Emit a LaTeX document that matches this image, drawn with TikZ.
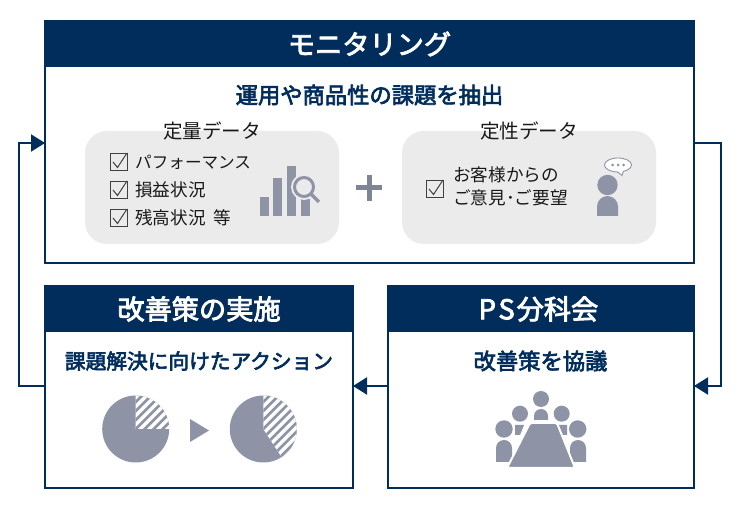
\documentclass[tikz,border=0pt]{standalone}
\usepackage{fontspec}
\setmainfont{Noto Sans CJK JP}
\newfontfamily\medfont[FakeBold=3]{Noto Sans CJK JP}
\usetikzlibrary{arrows.meta}
\definecolor{navy}{HTML}{002D5C}
\definecolor{panelgray}{HTML}{EBEBEB}
\definecolor{icongray}{HTML}{8E94A6}
\newcommand{\tsize}[1]{\fontsize{#1}{#1}\selectfont}
\tikzset{
  panel/.style={draw=navy,line width=2pt,fill=white,inner sep=0pt,outer sep=0pt},
  head/.style={fill=navy,text=white,inner sep=0pt,outer sep=0pt,font=\medfont\tsize{27.2}},
  subhead/.style={text=navy,inner sep=0pt,font=\medfont\tsize{22.3}},
  databox/.style={fill=panelgray,rounded corners=22pt,inner sep=0pt,minimum width=254pt,minimum height=113pt},
  item/.style={text=black!90,inner sep=0pt,anchor=west,font=\tsize{17.6}},
  datatitle/.style={text=black!90,inner sep=0pt,font=\tsize{19.6}},
  conn/.style={draw=navy,line width=2pt,-{Triangle[length=14pt,width=17pt]}},
  icon/.style={fill=icongray,draw=none},
  hatchline/.style={draw=icongray,line width=2.6pt},
  chkbox/.pic={
    \draw[black!75,line width=1pt] (-8.5,-8.5) rectangle (8.5,8.5);
    \draw[black!75,line width=1pt] (-6,0) -- (-1.5,5.5) -- (8,-9);
  }
}
\begin{document}
\begin{tikzpicture}[x=1pt,y=-1pt]
  \useasboundingbox (0,0) rectangle (740,510);

  % Rahmen
  \node[panel,minimum width=649pt,minimum height=242pt] (mon) at (369.5,142) {};
  \node[panel,minimum width=308pt,minimum height=202pt] (act) at (199,387) {};
  \node[panel,minimum width=306pt,minimum height=202pt] (ps) at (541,387) {};

  % Kopfzeilen
  \node[head,minimum width=650pt,minimum height=46pt] (monhead) at (369.5,44) {モニタリング};
  \node[head,minimum width=309pt,minimum height=47pt] (acthead) at (199,309) {改善策の実施};
  \node[head,minimum width=307pt,minimum height=47pt] (pshead) at (541,309) {\kern-5pt P\kern2.5pt S\kern2pt 分科会};

  \node[subhead] (monsub) at (369.5,95) {運用や商品性の課題を抽出};
  \node[subhead,font=\medfont\tsize{20.7}] (actsub) at (199,361) {課題解決に向けたアクション};
  \node[subhead] (pssub) at (540.5,361) {改善策を協議};

  % Daten
  \node[databox] (quant) at (212,187.5) {};
  \node[databox] (qual) at (529,187.5) {};
  \node[datatitle] (quanttitle) at (212,131) {定量データ};
  \node[datatitle] (qualtitle) at (529,131) {定性データ};

  \pic at (119,162) {chkbox};
  \pic at (119,190) {chkbox};
  \pic at (119,218) {chkbox};
  \pic at (435,189) {chkbox};
  \node[item,font=\tsize{16.6}] (perf) at (135,162) {パフォーマンス};
  \node[item] (loss) at (135,190) {損益状況};
  \node[item] (rest) at (135,218) {残高状況\kern4pt{} 等};
  \node[item] (voicea) at (453,175) {お客様からの};
  \node[item] (voiceb) at (453,198) {ご意見･ご要望};

  % Plus
  \fill[icongray!90!black] (356,185.5) rectangle (382,190.5);
  \fill[icongray!90!black] (366.5,175) rectangle (371.5,201);

  % Balken und Lupe
  \fill[icon] (260,197) rectangle (269,216);
  \fill[icon] (273,178) rectangle (282,216);
  \fill[icon] (287,166) rectangle (296,216);
  \fill[icon] (301,199) rectangle (310,216);
  \fill[panelgray] (304,187) circle (13);
  \draw[icongray,line width=3pt] (304,187) circle (9.5);
  \draw[icongray,line width=3.4pt] (311,194) -- (319,202);

  % Person
  \fill[icon] (607.5,185) circle (10.2);
  \fill[icon] (597,216) -- (597,206.5) arc[start angle=180,end angle=360,radius=10.5] -- (618,216) -- cycle;
  \draw[icongray,line width=.9pt,fill=white] (618,165) ellipse (13.5 and 7);
  \fill[white] (617,170) -- (622,175.5) -- (624,170) -- cycle;
  \draw[icongray,line width=.9pt] (617.5,171.9) -- (622,175.5) -- (623.5,170.8);
  \foreach \px in {612.5,618,623.5}
    \fill[icongray] (\px,165) circle (1.5);

  % Kreise
  \fill[icon] (135.7,429) circle (33.5);
  \fill[icon] (263.3,429) circle (33.5);
  \begin{scope}
    \clip (135.7,429) -- (135.7,395.5) arc[start angle=-90,end angle=0,radius=33.5] -- cycle;
    \fill[white] (100,390) rectangle (172,468);
    \foreach \k in {-72,-63,...,72}
      \draw[hatchline] (135.7+\k-50,429+50) -- (135.7+\k+50,429-50);
  \end{scope}
  \begin{scope}
    \clip (263.3,429) -- (263.3,395.5) arc[start angle=-90,end angle=57,radius=33.5] -- cycle;
    \fill[white] (228,390) rectangle (300,468);
    \foreach \k in {-72,-63,...,72}
      \draw[hatchline] (263.3+\k-50,429+50) -- (263.3+\k+50,429-50);
  \end{scope}
  \fill[icon] (190,419) -- (209,430.5) -- (190,442) -- cycle;

  % Besprechung
  \fill[icon] (541,399) circle (8);
  \fill[icon] (534,420) -- (534,416) arc[start angle=180,end angle=360,radius=7] -- (548,420) -- cycle;
  \fill[icon] (520,413.7) circle (8);
  \fill[icon] (561.7,413.7) circle (8);
  \fill[icon] (504,429) circle (8.7);
  \fill[icon] (577.7,429) circle (8.7);
  \fill[icon] (515,425) -- (524,425) -- (520,435) -- (515,435) -- cycle;
  \fill[icon] (567,425) -- (558,425) -- (562,435) -- (567,435) -- cycle;
  \fill[icon] (496,462) -- (496,448) arc[start angle=180,end angle=360,radius=8] -- (512,462) -- cycle;
  \fill[icon] (570,462) -- (570,448) arc[start angle=180,end angle=360,radius=8] -- (586,462) -- cycle;
  \draw[white,line width=2pt,fill=icongray,rounded corners=1.5pt] (530,423) -- (557,423) -- (575,468) -- (507,468) -- cycle;

  % Pfeile
  \coordinate (monout) at (mon.east |- 0,143);
  \coordinate (monin) at (mon.west |- 0,143);
  \coordinate (psin) at (ps.east |- 0,386);
  \coordinate (psout) at (ps.west |- 0,386);
  \coordinate (actin) at (act.east |- 0,386);
  \coordinate (actout) at (act.west |- 0,386);
  \coordinate (turnr) at (721,143);
  \coordinate (turnl) at (19,386);
  \draw[conn] (monout) -- (turnr) |- (psin);
  \draw[conn] (psout) -- (actin);
  \draw[conn] (actout) -- (turnl) |- (monin);
\end{tikzpicture}
\end{document}
